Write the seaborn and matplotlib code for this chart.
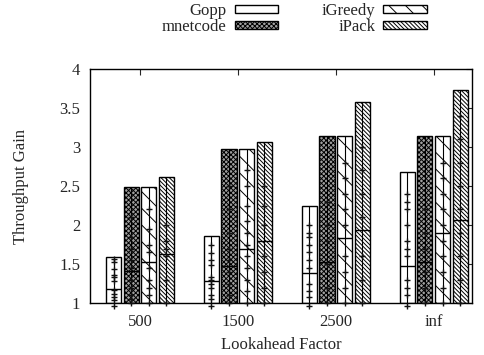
import matplotlib
matplotlib.use("Agg")
import matplotlib.pyplot as plt
import seaborn as sns
import pandas as pd
import numpy as np

groups = ["500", "1500", "2500", "inf"]
series = ["Gopp", "mnetcode", "iGreedy", "iPack"]

gopp_top = [1.59, 1.86, 2.24, 2.68]
mnetcode_top = [2.49, 2.97, 3.14, 3.14]
igreedy_top = [2.49, 2.97, 3.14, 3.14]
ipack_top = [2.61, 3.06, 3.57, 3.73]

gopp_med = [1.18, 1.29, 1.39, 1.48]
mnetcode_med = [1.41, 1.47, 1.53, 1.53]
igreedy_med = [1.53, 1.69, 1.83, 1.90]
ipack_med = [1.63, 1.80, 1.94, 2.06]

gopp_pts = [
    [0.97, 1.04, 1.08, 1.12, 1.17, 1.29, 1.34, 1.36, 1.44, 1.53, 1.57],
    [0.97, 1.05, 1.10, 1.19, 1.25, 1.30, 1.34, 1.49, 1.55, 1.64, 1.74],
    [0.97, 1.08, 1.15, 1.25, 1.45, 1.55, 1.65, 1.75, 1.85, 1.90, 2.00],
    [0.97, 1.10, 1.20, 1.30, 1.60, 1.70, 1.80, 2.00, 2.20, 2.30, 2.40],
]
mnetcode_pts = [
    [1.0, 1.05, 1.10, 1.20, 1.30, 1.45, 1.55, 1.70, 1.85, 2.10],
    [1.0, 1.10, 1.25, 1.40, 1.55, 1.70, 1.90, 2.20, 2.50],
    [1.0, 1.20, 1.50, 1.80, 2.00, 2.30],
    [1.0, 1.20, 1.40, 1.70, 1.90, 2.20],
]
igreedy_pts = [
    [1.0, 1.10, 1.20, 1.30, 1.45, 1.65, 1.75, 1.95, 2.20],
    [1.0, 1.15, 1.30, 1.45, 1.60, 1.75, 1.90, 2.05, 2.25, 2.50, 2.70],
    [1.0, 1.20, 1.40, 1.60, 2.00, 2.20, 2.40, 2.60, 2.80],
    [1.0, 1.20, 1.40, 1.60, 1.80, 2.00, 2.20, 2.40, 2.60, 2.80],
]
ipack_pts = [
    [1.0, 1.30, 1.60, 1.70, 1.80, 2.00],
    [1.0, 1.20, 1.40, 1.60, 2.00, 2.25, 2.50],
    [1.0, 1.30, 1.60, 2.10, 2.40, 2.70, 3.00],
    [1.0, 1.30, 1.60, 1.90, 2.20, 2.50, 2.80, 3.10, 3.40],
]

tops = [gopp_top, mnetcode_top, igreedy_top, ipack_top]
meds = [gopp_med, mnetcode_med, igreedy_med, ipack_med]
pts = [gopp_pts, mnetcode_pts, igreedy_pts, ipack_pts]
hatches = ["", "xxxxxxx", "\\\\", "\\" * 8]
faces = ["white", "#a0a0a0", "white", "white"]

rows = []
for s, t in zip(series, tops):
    for g, v in zip(groups, t):
        rows.append({"group": g, "series": s, "value": v})
df = pd.DataFrame(rows)

sns.set_style("white")
plt.rcParams["font.family"] = ["Liberation Serif", "DejaVu Serif"]
plt.rcParams["hatch.linewidth"] = 0.7
plt.rcParams["hatch.color"] = "black"

fig = plt.figure(figsize=(4.84, 3.55), dpi=100)
ax = fig.add_axes([0.186, 0.146, 0.789, 0.660])

width = 0.72
sns.barplot(data=df, x="group", y="value", hue="series", order=groups,
            hue_order=series, width=width, ax=ax,
            palette=["white"] * 4, edgecolor="black", linewidth=1.0,
            saturation=1, legend=True)

slot = width / len(series)
bw = slot * 0.86
for i, s in enumerate(series):
    cont = ax.containers[i]
    for j, bar in enumerate(cont):
        xc = bar.get_x() + bar.get_width() / 2
        bar.set_x(xc - bw / 2)
        bar.set_width(bw)
        bar.set_y(1.0)
        bar.set_height(tops[i][j] - 1.0)
        bar.set_hatch(hatches[i])
        bar.set_facecolor(faces[i])
        bar.set_edgecolor("black")

for i, s in enumerate(series):
    for j, g in enumerate(groups):
        xc = j + (i - 1.5) * slot
        ax.hlines(meds[i][j], xc - bw / 2, xc + bw / 2, color="black", lw=1.0, zorder=4)
        p = pts[i][j]
        ax.vlines(xc, min(p), tops[i][j], color="black", lw=0.8, zorder=4, clip_on=False)
        ax.plot([xc] * len(p), p, linestyle="none", marker="+", ms=4, mew=1.0,
                color="#111111", zorder=5, clip_on=False)

ax.set_xlim(-0.51, 3.39)
ax.set_ylim(1, 4)
ax.set_yticks([1, 1.5, 2, 2.5, 3, 3.5, 4])
ax.set_yticklabels(["1", "1.5", "2", "2.5", "3", "3.5", "4"])
ax.tick_params(direction="in", top=True, right=True, length=4, width=0.8,
               labelsize=12)
ax.tick_params(axis="y", pad=7)
ax.tick_params(axis="x", pad=8)
for sp in ax.spines.values():
    sp.set_linewidth(1.0)
    sp.set_color("black")
ax.set_xlabel("Lookahead Factor", fontsize=12, labelpad=5)
ax.set_ylabel("Throughput Gain", fontsize=12, labelpad=22)

handles, labels = ax.get_legend_handles_labels()
for h, hh, fc in zip(handles, hatches, faces):
    h.set_hatch(hh)
    h.set_facecolor(fc)
    h.set_edgecolor("black")
if ax.legend_ is not None:
    ax.legend_.remove()
fig.legend(handles, labels, ncol=2, loc="upper center", bbox_to_anchor=(0.608, 1.034),
           frameon=False, markerfirst=False, fontsize=12, handlelength=2.6,
           handleheight=0.45, labelspacing=0.0, columnspacing=2.6, handletextpad=0.5)

fig.savefig("out.png", dpi=100)
